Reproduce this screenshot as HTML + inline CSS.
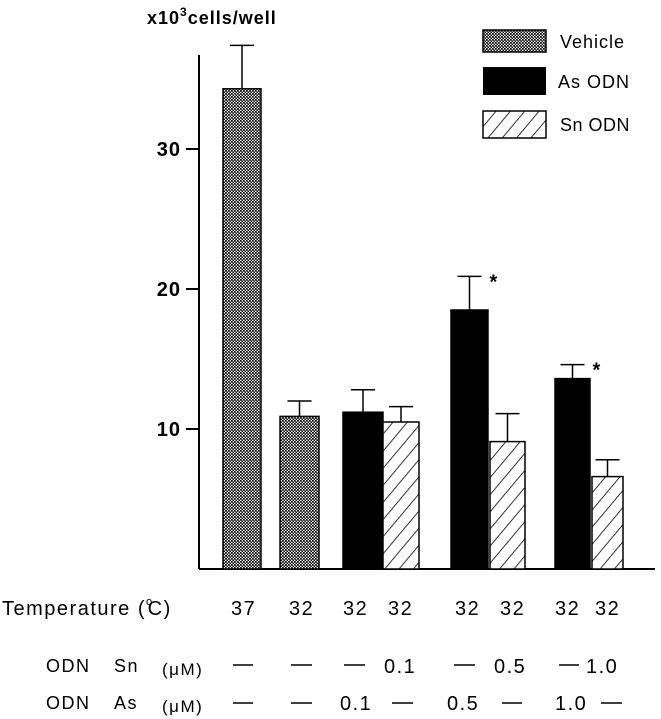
<!DOCTYPE html>
<html><head><meta charset="utf-8"><style>
html,body{margin:0;padding:0;background:#fff}
svg{display:block;font-family:"Liberation Sans",sans-serif}
</style></head><body>
<svg id="chart" width="661" height="719" viewBox="0 0 661 719">
<defs>
<pattern id="checker" width="3" height="3" patternUnits="userSpaceOnUse">
<rect width="3" height="3" fill="#fff"/><rect width="1.7" height="1.7" fill="#000"/><rect x="1.5" y="1.5" width="1.7" height="1.7" fill="#000"/>
</pattern>
<pattern id="hatch" width="11" height="11" patternUnits="userSpaceOnUse" patternTransform="rotate(40)">
<rect width="11" height="11" fill="#fff"/><line x1="0" y1="0" x2="0" y2="11" stroke="#000" stroke-width="1.6"/>
</pattern>
</defs>
<g id="marks"></g>
<text x="147" y="24" font-size="18" font-weight="bold" letter-spacing="1">x10<tspan dy="-8" font-size="12">3</tspan><tspan dy="8">cells/well</tspan></text>
<g>
<rect x="483" y="30" width="63" height="22" fill="url(#checker)" stroke="#000" stroke-width="1.5"/>
<text x="560" y="48" font-size="18" letter-spacing="1">Vehicle</text>
<rect x="483" y="67" width="63" height="28" fill="#000"/>
<text x="558" y="88" font-size="18" letter-spacing="1">As ODN</text>
<rect x="483" y="111" width="63" height="27" fill="url(#hatch)" stroke="#000" stroke-width="1.5"/>
<text x="560" y="131" font-size="18" letter-spacing="0.5">Sn ODN</text>
</g>
<g font-size="20" letter-spacing="1.5">
<text x="2" y="615">Temperature (<tspan font-size="11" dy="-10">o</tspan><tspan dy="10" dx="-6">C)</tspan></text>
<text x="231" y="615">37</text><text x="289" y="615">32</text><text x="343" y="615">32</text><text x="388" y="615">32</text>
<text x="455" y="615">32</text><text x="500" y="615">32</text><text x="555" y="615">32</text><text x="595" y="615">32</text>
<text x="46" y="672" font-size="18">ODN</text><text x="114" y="672" font-size="18">Sn</text>
<text x="162" y="675" font-size="17">(μM)</text>
<text x="384" y="673">0.1</text><text x="494" y="673">0.5</text><text x="586" y="673">1.0</text>
<text x="46" y="709" font-size="18">ODN</text><text x="114" y="709" font-size="18">As</text>
<text x="162" y="712" font-size="17">(μM)</text>
<text x="340" y="710">0.1</text><text x="447" y="710">0.5</text><text x="555" y="710">1.0</text>
<g stroke="#000" stroke-width="1.5">
<line x1="233" y1="665" x2="253" y2="665"/><line x1="291" y1="665" x2="312" y2="665"/><line x1="344" y1="665" x2="365" y2="665"/><line x1="454" y1="665" x2="475" y2="665"/><line x1="559" y1="665" x2="579" y2="665"/>
<line x1="233" y1="703" x2="253" y2="703"/><line x1="291" y1="703" x2="312" y2="703"/><line x1="392" y1="703" x2="413" y2="703"/><line x1="502" y1="703" x2="522" y2="703"/><line x1="601" y1="703" x2="622" y2="703"/>
</g>
</g>
</svg>
<script>
const categories = ["37 vehicle","32 vehicle","32 As 0.1","32 Sn 0.1","32 As 0.5","32 Sn 0.5","32 As 1.0","32 Sn 1.0"];
const series = ["vehicle","vehicle","as","sn","as","sn","as","sn"];
const values = [34.3,10.9,11.2,10.5,18.5,9.1,13.6,6.6];
const errors = [3.1,1.1,1.6,1.1,2.4,2.0,1.0,1.2];
const significant = [false,false,false,false,true,false,true,false];
const yTicks = [10,20,30];

const NS="http://www.w3.org/2000/svg";
const g=document.getElementById('marks');
const y0=569, pxPerUnit=14;
function yScale(v){return y0 - v*pxPerUnit;}
const barLeft=[223,280,343,383,451,490,555,592];
const barW=[38,39,40,36,37,35,35,31];
function mk(tag,attrs){const e=document.createElementNS(NS,tag);for(const k in attrs)e.setAttribute(k,attrs[k]);g.appendChild(e);return e;}
const fills={vehicle:"url(#checker)",as:"#000",sn:"url(#hatch)"};
let ax=mk('line',{x1:199,y1:55,x2:199,y2:y0,stroke:'#000','stroke-width':2});


let bx=mk('line',{x1:199,y1:y0,x2:655,y2:y0,stroke:'#000','stroke-width':2});


yTicks.forEach(t=>{
  const tk=mk('line',{x1:186,y1:yScale(t),x2:199,y2:yScale(t),stroke:'#000','stroke-width':2});
  
  
  const tl=mk('text',{x:181,y:yScale(t)+7,'text-anchor':'end','font-size':20,'font-weight':'bold','letter-spacing':1});
  tl.textContent=t;
  
  
});
values.forEach((v,i)=>{
  const x=barLeft[i], w=barW[i], cx=x+w/2;
  const top=yScale(v+errors[i]);
  const el=mk('line',{x1:cx,y1:top,x2:cx,y2:yScale(v),stroke:'#000','stroke-width':1.5});
  
  
  const cap=mk('line',{x1:cx-12,y1:top,x2:cx+12,y2:top,stroke:'#000','stroke-width':1.5});
  
  
  const r=mk('rect',{x:x,y:yScale(v),width:w,height:y0-yScale(v),fill:fills[series[i]],stroke:'#000','stroke-width':1.5});
  
  
  if(significant[i]){
    const s=mk('text',{x:cx+20,y:top+12,'font-size':20,'font-weight':'bold'});
    s.textContent='*';
    
    
  }
});
</script>
</body></html>
